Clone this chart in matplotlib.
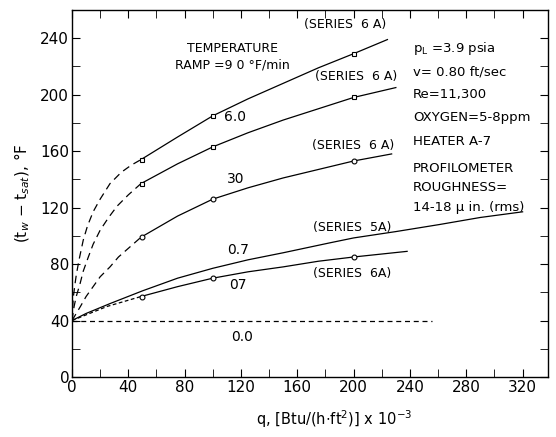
import matplotlib
matplotlib.use("Agg")
import matplotlib.pyplot as plt
from matplotlib.ticker import MultipleLocator

# ramp 9.0 (series 6A)
q90_dash = [0, 0.5, 1, 2, 3, 5, 8, 11, 15, 20, 27, 35, 42, 49]
t90_dash = [40, 50, 57, 65, 72, 83, 97, 107, 117, 126, 137, 145, 150, 154]
q90 = [49, 75, 100, 125, 150, 175, 200, 224]
t90 = [154, 170, 185, 197, 208, 219, 229, 239]
q90_pts = [50, 100, 200]
t90_pts = [154, 185, 229]

# ramp 6.0 (series 6A)
q60_dash = [0, 1.5, 3, 5.7, 8, 11.6, 15, 20, 26, 32, 40, 49]
t60_dash = [40, 50, 57, 66, 75, 85, 94, 104, 113, 121, 129, 137]
q60 = [49, 75, 100, 125, 150, 175, 200, 230]
t60 = [137, 151, 163, 173, 182, 190, 198, 205]
q60_pts = [50, 100, 200]
t60_pts = [137, 163, 198]

# ramp 3.0 (series 6A)
q30_dash = [0, 3, 6, 10, 15, 20, 27, 33, 41, 49]
t30_dash = [40, 45, 50, 57, 64, 71, 78, 85, 92, 99]
q30 = [49, 75, 100, 125, 150, 175, 200, 227]
t30 = [99, 114, 126, 134, 141, 147, 153, 158]
q30_pts = [50, 100, 200]
t30_pts = [99, 126, 153]

# ramp 0.7 (series 5A)
q07a = [0, 10, 27, 50, 75, 100, 125, 150, 183, 200, 230, 261, 290, 320]
t07a = [40, 45, 52, 61, 70, 77, 83, 88, 95, 98.5, 103, 108, 113, 117]

# ramp 0.7 (series 6A)
q07b_dash = [0, 10, 25, 49]
t07b_dash = [40, 44, 50, 57]
q07b = [49, 75, 100, 125, 150, 175, 200, 238]
t07b = [57, 64, 70, 74.5, 78, 82, 85, 89]
q07b_pts = [50, 100, 200]
t07b_pts = [57, 70, 85]

# ramp 0.0
q00 = [0, 256]
t00 = [40, 40]

plt.rcParams['font.family'] = 'DejaVu Sans'
fig = plt.figure(figsize=(5.56, 4.37), dpi=100)
ax = fig.add_axes([0.1295, 0.1373, 0.856, 0.84])

k = 'black'
lw = 0.9
for qd, td in [(q90_dash, t90_dash), (q60_dash, t60_dash), (q30_dash, t30_dash)]:
    ax.plot(qd, td, color=k, lw=lw, dashes=(6, 4))
ax.plot(q07b_dash, t07b_dash, color=k, lw=lw, dashes=(3, 2))
for qs, ts in [(q90, t90), (q60, t60), (q30, t30), (q07a, t07a), (q07b, t07b)]:
    ax.plot(qs, ts, color=k, lw=lw)
ax.plot(q00, t00, color=k, lw=lw, dashes=(4, 3))

ax.plot(q90_pts, t90_pts, 's', ms=3.5, mfc='white', mec=k, mew=0.8)
ax.plot(q60_pts, t60_pts, 's', ms=3.5, mfc='white', mec=k, mew=0.8)
ax.plot(q30_pts, t30_pts, 'o', ms=3.5, mfc='white', mec=k, mew=0.8)
ax.plot(q07b_pts, t07b_pts, 'o', ms=3.5, mfc='white', mec=k, mew=0.8)

fs = 9
ax.text(194, 250, "(SERIES  6 A)", fontsize=fs, ha='center', va='center')
ax.text(114, 233, "TEMPERATURE", fontsize=fs, ha='center', va='center')
ax.text(114, 221, "RAMP =9 0 °F/min", fontsize=fs, ha='center', va='center')
ax.text(202, 213, "(SERIES  6 A)", fontsize=fs, ha='center', va='center')
ax.text(116, 184, "6.0", fontsize=fs + 1, ha='center', va='center')
ax.text(200, 164, "(SERIES  6 A)", fontsize=fs, ha='center', va='center')
ax.text(116, 140, "30", fontsize=fs + 1, ha='center', va='center')
ax.text(199, 106, "(SERIES  5A)", fontsize=fs, ha='center', va='center')
ax.text(118, 90, "0.7", fontsize=fs + 1, ha='center', va='center')
ax.text(118, 65, "07", fontsize=fs + 1, ha='center', va='center')
ax.text(199, 73, "(SERIES  6A)", fontsize=fs, ha='center', va='center')
ax.text(121, 28, "0.0", fontsize=fs + 1, ha='center', va='center')

notes = [(233, r"p$_\mathregular{L}$ =3.9 psia"), (216, "v= 0.80 ft/sec"),
         (200, "Re=11,300"), (184, "OXYGEN=5-8ppm"), (167, "HEATER A-7"),
         (148, "PROFILOMETER"), (134, "ROUGHNESS="), (120, "14-18 μ in. (rms)")]
for y, s in notes:
    ax.text(242, y, s, fontsize=9.5, ha='left', va='center')

ax.set_xlim(0, 338)
ax.set_ylim(0, 260)
ax.xaxis.set_major_locator(MultipleLocator(40))
ax.xaxis.set_minor_locator(MultipleLocator(20))
ax.yaxis.set_major_locator(MultipleLocator(40))
ax.yaxis.set_minor_locator(MultipleLocator(20))
ax.tick_params(which='both', direction='in', top=True, right=True, length=6,
               labelsize=11, pad=2)
for sp in ax.spines.values():
    sp.set_linewidth(1.0)

ax.set_xlabel(r"q, [Btu/(h$\cdot$ft$^2$)] x 10$^{-3}$", fontsize=10.5)
ax.xaxis.set_label_coords(0.55, -0.085)
ax.set_ylabel(r"(t$_w$ $-$ t$_{sat}$), °F", fontsize=11, labelpad=6)

fig.savefig("out.png", dpi=100)
